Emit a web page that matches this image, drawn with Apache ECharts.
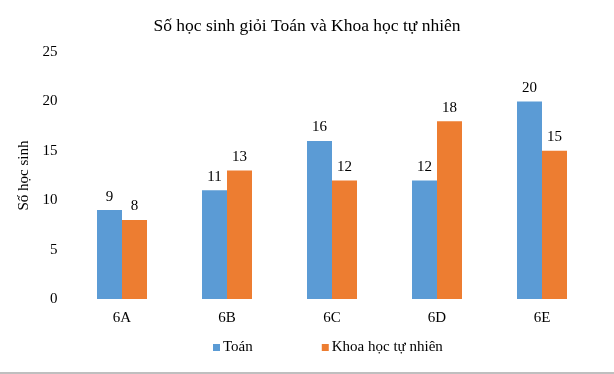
<!DOCTYPE html>
<html>
<head>
<meta charset="utf-8">
<script src="https://cdn.jsdelivr.net/npm/echarts@6/dist/echarts.min.js"></script>
<style>
html,body{margin:0;padding:0;background:#fff;}
#c{width:614px;height:374px;}
</style>
</head>
<body>
<div id="c"></div>
<script>
var categories = ['6A', '6B', '6C', '6D', '6E'];
var toan = [9, 11, 16, 12, 20];
var khtn = [8, 13, 12, 18, 15];
var seriesNames = ['Toán', 'Khoa học tự nhiên'];
var titleText = 'Số học sinh giỏi Toán và Khoa học tự nhiên';
var yAxisName = 'Số học sinh';

var font = 'Liberation Serif, Times New Roman, serif';
var chart = echarts.init(document.getElementById('c'), null, {renderer: 'canvas'});
chart.setOption({
  animation: false,
  backgroundColor: '#fff',
  textStyle: {fontFamily: font},
  title: {
    text: titleText,
    left: 'center',
    top: 12,
    textStyle: {fontFamily: font, fontSize: 17.5, fontWeight: 'normal', color: '#000'}
  },
  legend: {
    data: seriesNames,
    top: 335,
    left: 208,
    itemWidth: 7,
    itemHeight: 7,
    itemGap: 69,
    icon: 'rect',
    textStyle: {fontFamily: font, fontSize: 15, color: '#000', padding: [0, 0, 0, -2]}
  },
  grid: {left: 69.5, right: 19.5, top: 52, bottom: 75, containLabel: false},
  xAxis: {
    type: 'category',
    data: categories,
    axisLine: {show: false},
    axisTick: {show: false},
    axisLabel: {fontFamily: font, fontSize: 15, color: '#000', margin: 12}
  },
  yAxis: {
    type: 'value',
    min: 0, max: 25, interval: 5,
    name: yAxisName,
    nameLocation: 'middle',
    nameGap: 37,
    nameTextStyle: {fontFamily: font, fontSize: 15, color: '#000'},
    axisLine: {show: false},
    axisTick: {show: false},
    splitLine: {show: false},
    axisLabel: {fontFamily: font, fontSize: 15, color: '#000', margin: 12}
  },
  series: [
    {
      name: seriesNames[0], type: 'bar', data: toan,
      barWidth: 25, barGap: '0%',
      itemStyle: {color: '#5B9BD5'},
      label: {show: true, position: 'top', distance: 6, fontFamily: font, fontSize: 15, color: '#000'}
    },
    {
      name: seriesNames[1], type: 'bar', data: khtn,
      barWidth: 25, barGap: '0%',
      itemStyle: {color: '#ED7D31'},
      label: {show: true, position: 'top', distance: 6, fontFamily: font, fontSize: 15, color: '#000'}
    }
  ],
  graphic: [{
    type: 'rect', left: 0, top: 372, shape: {width: 614, height: 2},
    style: {fill: '#bfbfbf'}, silent: true
  }]
});
</script>
</body>
</html>
